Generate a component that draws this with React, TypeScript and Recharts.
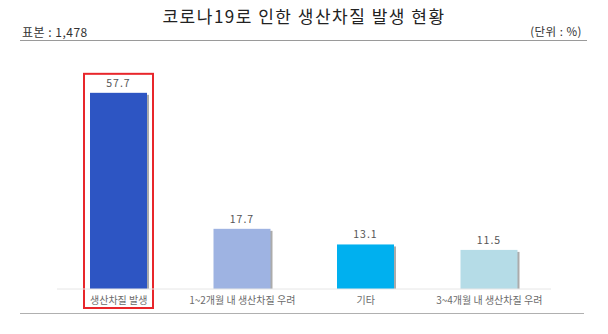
import React from "react";
import { BarChart, Bar, XAxis, YAxis, Cell, LabelList } from "recharts";

const categories = ["생산차질 발생", "1~2개월 내 생산차질 우려", "기타", "3~4개월 내 생산차질 우려"];
const values = [57.7, 17.7, 13.1, 11.5];
const colors = ["#2D55C3", "#9EB3E2", "#00B0EF", "#B5DCE7"];

const data = categories.map((name, i) => ({ name, value: values[i] }));

const font = "'Noto Sans CJK KR', 'Noto Sans', sans-serif";

// bar with a thin grey shadow on the right; the first one gets the red highlight box
function ShadowBar(props: any) {
  const { x, y, width, height, fill, index } = props;
  return (
    <g>
      <rect x={x + 2} y={y + 2} width={width} height={height - 2} fill="#ABABAB" />
      <rect x={x} y={y} width={width} height={height} fill={fill} />
      {index === 0 && (
        <rect x={x - 6} y={y - 19} width={width + 12} height={height + 38} fill="none" stroke="#E8262B" strokeWidth={2} />
      )}
    </g>
  );
}

export default function App() {
  return (
    <div style={{ position: "absolute", left: 0, top: 0, width: 608, height: 334, background: "#fff", fontFamily: font }}>
      <div style={{ position: "absolute", left: 0, top: 3, width: 608, textAlign: "center", fontSize: 17, color: "#222", letterSpacing: 1.5 }}>
        코로나19로 인한 생산차질 발생 현황
      </div>
      <div style={{ position: "absolute", left: 22, top: 23, fontSize: 12, color: "#333", letterSpacing: 0.5 }}>표본 : 1,478</div>
      <div style={{ position: "absolute", right: 26, top: 23, fontSize: 11.5, color: "#333", letterSpacing: 0.5 }}>(단위 : %)</div>
      <div style={{ position: "absolute", left: 20, top: 40, width: 567, height: 1, background: "#9a9a9a" }} />
      <div style={{ position: "absolute", left: 20, top: 313, width: 564, height: 1, background: "#b0b0b0" }} />
      <div style={{ position: "absolute", left: 0, top: 0 }}>
        <BarChart width={608} height={334} data={data} margin={{ top: 85, right: 57, bottom: 0, left: 57 }}>
          <XAxis
            dataKey="name"
            height={45}
            interval={0}
            axisLine={{ stroke: "#E6E6E6" }}
            tickLine={false}
            tick={{ fontSize: 10, fill: "#6B6B6B", fontFamily: font }}
            tickMargin={2}
          />
          <YAxis hide domain={[0, 60]} />
          <Bar dataKey="value" barSize={57} shape={<ShadowBar />} isAnimationActive={false}>
            {data.map((d, i) => (
              <Cell key={i} fill={colors[i]} />
            ))}
            <LabelList dataKey="value" position="top" offset={6} style={{ fontSize: 10.5, fill: "#555", fontFamily: font, letterSpacing: 1 }} formatter={(v: any) => Number(v).toFixed(1)} />
          </Bar>
        </BarChart>
      </div>
    </div>
  );
}
